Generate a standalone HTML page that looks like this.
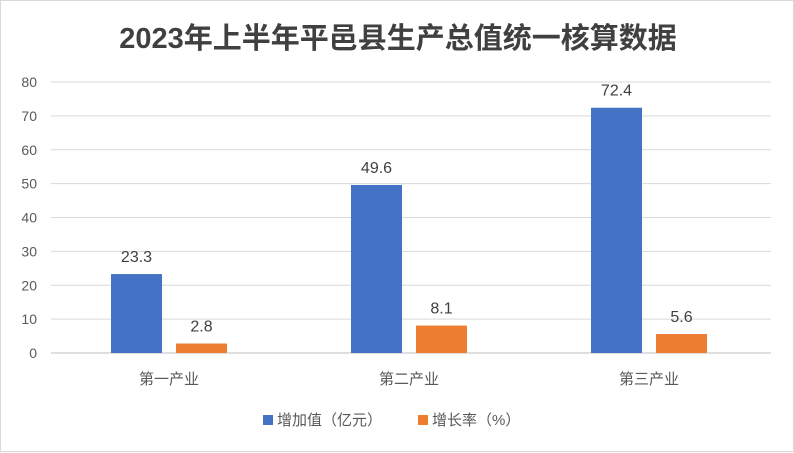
<!DOCTYPE html>
<html><head><meta charset="utf-8"><style>
body{margin:0;background:#fff;}
#wrap{width:794px;height:452px;position:relative;box-sizing:border-box;border:1px solid #d9d9d9;background:#fff;font-family:"Liberation Sans","Noto Sans CJK SC",sans-serif;}
</style></head><body>
<div id="wrap">
<svg id="chart" width="794" height="452" style="position:absolute;left:0;top:0"></svg>
</div>
<script>
const categories=["第一产业","第二产业","第三产业"];
const addedValue=[23.3,49.6,72.4];
const growthRate=[2.8,8.1,5.6];
const yTicks=[0,10,20,30,40,50,60,70,80];
const seriesNames=["增加值（亿元）","增长率（%）"];
const colors=["#4472c4","#ed7d31"];
const svg=document.getElementById('chart');
const NS='http://www.w3.org/2000/svg';
function mk(t,a,p){const e=document.createElementNS(NS,t);for(const k in a)e.setAttribute(k,a[k]);(p||svg).appendChild(e);return e;}
const x0=50,x1=770,yBase=352,yTop=81,yMax=80;
const y=v=>yBase-(v/yMax)*(yBase-yTop);
const band=(x1-x0)/categories.length;
const xc=i=>x0+band*(i+0.5)-2;
const title=mk('text',{x:397,y:47,'text-anchor':'middle','font-size':29,'font-weight':'bold',fill:'#404040'});
title.textContent='2023年上半年平邑县生产总值统一核算数据';


yTicks.forEach(t=>{
 const l=mk('line',{x1:x0,x2:x1,y1:y(t),y2:y(t),stroke:t===0?'#bfbfbf':'#d9d9d9','stroke-width':1});
 
 
 const tx=mk('text',{x:36,y:y(t)+5,'text-anchor':'end','font-size':14,fill:'#595959'});
 tx.textContent=t;
 
 
});
const bw=51,gap=14;
categories.forEach((c,i)=>{
 const cx=xc(i);
 [addedValue[i],growthRate[i]].forEach((v,s)=>{
  const bx=cx-gap/2-bw+s*(bw+gap);
  const r=mk('rect',{x:bx,y:y(v),width:bw,height:yBase-y(v),fill:colors[s]});
  
  
  const lt=mk('text',{x:bx+bw/2,y:y(v)-12,'text-anchor':'middle','font-size':16,fill:'#404040'});
  lt.textContent=v;
  
  
 });
 const ct=mk('text',{x:cx,y:383,'text-anchor':'middle','font-size':15,fill:'#595959'});
 ct.textContent=c;
 
 
});
const lx=[262,417];
seriesNames.forEach((n,s)=>{
 const g=mk('g',{});
 
 
 mk('rect',{x:lx[s],y:414,width:10,height:10,fill:colors[s]},g);
 const t=mk('text',{x:lx[s]+14,y:424,'font-size':15,fill:'#595959'},g);
 t.textContent=n;
});
</script>
</body></html>
